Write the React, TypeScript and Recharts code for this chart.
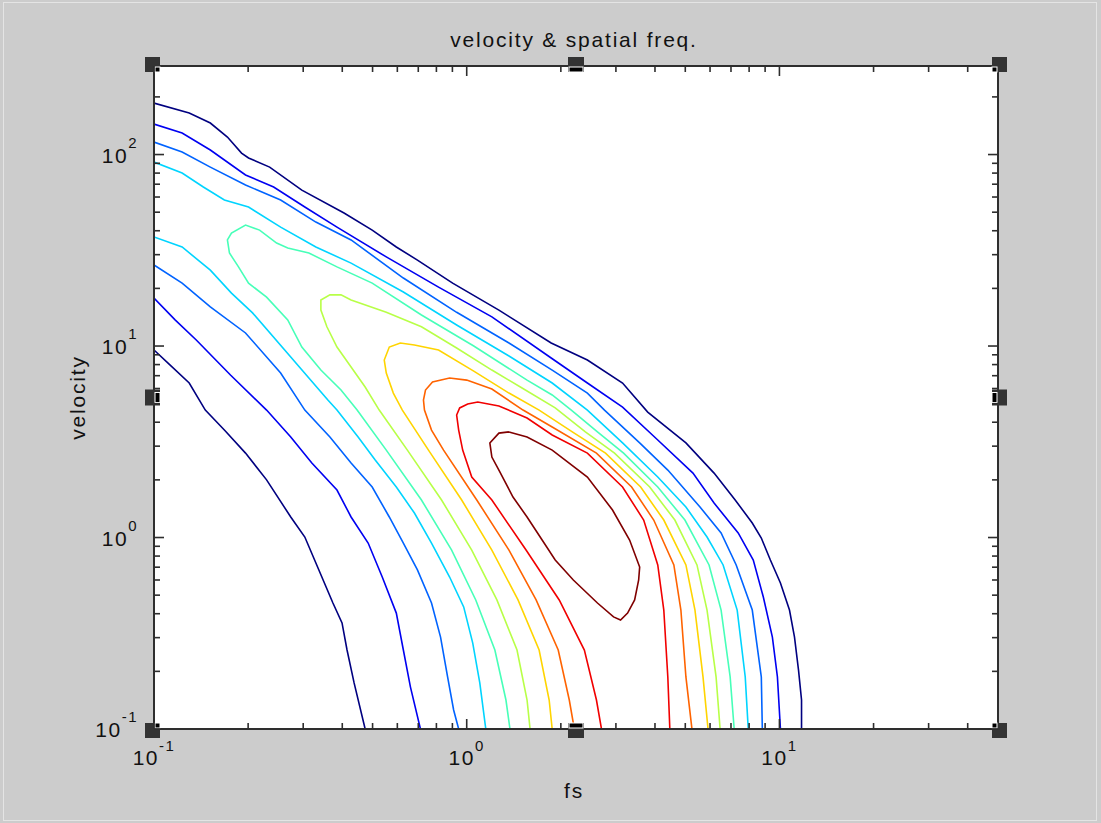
import React from "react";
import { LineChart, Line, XAxis, YAxis, CartesianGrid, ReferenceDot } from "recharts";

// axis ranges and ticks (log axes)
const fsDomain: [number, number] = [0.1, 50];
const velocityDomain: [number, number] = [0.1, 290];
const fsTicks = [0.1, 0.2, 0.3, 0.4, 0.5, 0.6, 0.7, 0.8, 0.9, 1, 2, 3, 4, 5, 6, 7, 8, 9, 10, 20, 30, 40];
const velocityTicks = [
  0.1, 0.2, 0.3, 0.4, 0.5, 0.6, 0.7, 0.8, 0.9, 1, 2, 3, 4, 5, 6, 7, 8, 9,
  10, 20, 30, 40, 50, 60, 70, 80, 90, 100, 200,
];

// jet colours for the 10 contour levels, low -> high
const levelColors = [
  "#000080", "#0000f1", "#0063ff", "#00d4ff", "#47ffb8",
  "#b8ff47", "#ffd400", "#ff6300", "#f10000", "#800000",
];

// contour lines, [fs, velocity]
const level1Lower = [
  [0.1, 9.53], [0.1109, 8.15], [0.1296, 6.41], [0.1459, 4.63], [0.1679, 3.64], [0.1962, 2.76],
  [0.2291, 2.0], [0.2737, 1.28], [0.3036, 1.006], [0.3367, 0.677], [0.3734, 0.455], [0.3993, 0.358],
  [0.4143, 0.2585], [0.4364, 0.174], [0.4734, 0.1],
];
const level1Upper = [
  [0.1, 185.7], [0.1296, 164.7], [0.1514, 146.1], [0.1717, 123.4], [0.1905, 101.8], [0.2006, 95.9],
  [0.2343, 86.0], [0.297, 65.2], [0.4052, 49.5], [0.4986, 40.3], [0.5955, 32.9], [0.6957, 28.1],
  [0.9015, 21.3], [1.2675, 15.4], [1.8626, 10.37], [2.4315, 8.45], [3.1506, 6.41], [3.7913, 4.52],
  [5.0232, 3.12], [6.1802, 2.17], [7.2197, 1.57], [8.188, 1.191], [8.7517, 0.994], [9.3551, 0.763],
  [10.075, 0.579], [10.769, 0.418], [11.174, 0.302], [11.51, 0.203], [11.768, 0.1417], [11.768, 0.1],
];
const level2Lower = [
  [0.1, 17.8], [0.1168, 13.7], [0.1365, 10.75], [0.1756, 7.06], [0.2291, 4.63], [0.2737, 3.35],
  [0.3197, 2.45], [0.3847, 1.77], [0.4268, 1.28], [0.484, 0.936], [0.5369, 0.622], [0.5955, 0.403],
  [0.6272, 0.2585], [0.6606, 0.166], [0.7113, 0.1],
];
const level2Upper = [
  [0.1, 144.3], [0.123, 129.5], [0.1514, 105.6], [0.1962, 78.2], [0.2413, 67.7], [0.3036, 53.2],
  [0.3847, 41.8], [0.5531, 29.2], [0.8127, 20.3], [1.2035, 14.2], [1.8626, 8.66], [2.4315, 6.41],
  [3.1506, 4.8], [4.0828, 3.23], [5.2904, 2.17], [6.1802, 1.514], [7.3819, 1.056], [8.2489, 0.763],
  [8.8822, 0.489], [9.4946, 0.302], [9.853, 0.187], [10.075, 0.1],
];
const level3Lower = [
  [0.1, 26.5], [0.123, 21.3], [0.1514, 16.0], [0.1962, 11.7], [0.2541, 7.23], [0.3036, 4.63],
  [0.3652, 3.35], [0.4268, 2.45], [0.4986, 1.835], [0.5655, 1.28], [0.6272, 0.936], [0.6957, 0.677],
  [0.7717, 0.455], [0.8248, 0.302], [0.8687, 0.187], [0.9082, 0.1257], [0.9425, 0.1],
];
const level3Upper = [
  [0.1, 116.2], [0.123, 103.1], [0.1514, 86.0], [0.1962, 69.3], [0.2541, 57.9], [0.3293, 44.4],
  [0.4268, 35.8], [0.6272, 22.65], [0.9286, 15.0], [1.365, 10.37], [1.8765, 7.49], [2.4315, 5.68],
  [2.7581, 4.63], [3.5733, 3.12], [4.3966, 2.25], [5.572, 1.443], [6.5088, 1.056], [7.2734, 0.719],
  [8.188, 0.418], [8.7517, 0.187], [8.8168, 0.1],
];
const level4Lower = [
  [0.1, 37.1], [0.123, 32.9], [0.1514, 24.9], [0.1769, 18.9], [0.2066, 14.9], [0.2737, 8.76],
  [0.3598, 5.22], [0.3847, 4.63], [0.4495, 3.35], [0.5098, 2.54], [0.5955, 1.835], [0.6804, 1.342],
  [0.7717, 0.936], [0.8817, 0.622], [0.978, 0.434], [1.0454, 0.281], [1.1011, 0.174], [1.1509, 0.1],
];
const level4Upper = [
  [0.1, 91.4], [0.123, 80.1], [0.1438, 67.7], [0.1679, 57.9], [0.2006, 53.2], [0.2541, 41.8],
  [0.3293, 32.9], [0.4268, 27.1], [0.6272, 19.14], [0.9286, 12.87], [1.365, 8.87], [1.8765, 6.41],
  [2.4315, 4.63], [3.1506, 3.12], [4.0828, 2.07], [5.0232, 1.443], [5.8684, 1.006], [6.6061, 0.719],
  [7.327, 0.418], [7.7745, 0.187], [7.949, 0.1],
];
const level5 = [
  [1.3752, 0.1], [1.335, 0.1417], [1.2305, 0.2585], [1.0689, 0.472], [0.895, 0.86], [0.7166, 1.57],
  [0.5531, 2.86], [0.4462, 4.63], [0.3963, 5.89], [0.3417, 7.49], [0.297, 9.88], [0.2677, 13.7],
  [0.2291, 18.0], [0.2006, 21.3], [0.1863, 25.9], [0.1743, 30.6], [0.1717, 35.8], [0.1769, 38.9],
  [0.1962, 42.8], [0.2176, 40.3], [0.2467, 34.5], [0.2677, 32.5], [0.3128, 30.6], [0.3847, 25.9],
  [0.4986, 21.3], [0.7166, 14.52], [1.0532, 10.0], [1.5595, 6.64], [1.8765, 5.55], [2.1601, 4.63],
  [2.6187, 3.56], [3.174, 2.76], [4.0828, 1.835], [4.9862, 1.234], [5.9561, 0.719], [6.5088, 0.418],
  [6.9573, 0.187], [7.1665, 0.1],
];
const level6 = [
  [1.5945, 0.1], [1.5595, 0.1417], [1.4483, 0.2585], [1.2489, 0.472], [1.0377, 0.86], [0.831, 1.57],
  [0.6461, 2.86], [0.5251, 4.63], [0.4734, 6.11], [0.4268, 7.77], [0.3847, 9.88], [0.3572, 12.6],
  [0.3417, 15.4], [0.3417, 17.4], [0.3652, 18.5], [0.3963, 18.5], [0.4268, 17.4], [0.5531, 15.0],
  [0.7166, 12.6], [0.9286, 9.76], [1.2035, 7.49], [1.503, 6.04], [1.9187, 4.75], [2.3958, 3.56],
  [2.9697, 2.76], [3.848, 1.835], [4.6304, 1.234], [5.4497, 0.719], [5.8684, 0.418], [6.2724, 0.187],
  [6.4609, 0.1],
];
const level7 = [
  [1.8765, 0.1], [1.8352, 0.1417], [1.7044, 0.2585], [1.4591, 0.472], [1.2035, 0.86], [0.9637, 1.57],
  [0.7547, 2.86], [0.6226, 4.63], [0.5825, 5.68], [0.5531, 7.23], [0.5449, 8.45], [0.5655, 9.88],
  [0.6134, 10.37], [0.6804, 10.12], [0.8127, 9.53], [1.0532, 7.4], [1.365, 5.68], [1.7044, 4.63],
  [2.1762, 3.56], [2.7786, 2.76], [3.5998, 1.835], [4.2683, 1.234], [5.0232, 0.719], [5.3695, 0.418],
  [5.6971, 0.187], [5.912, 0.1],
];
const level8 = [
  [2.2087, 0.1], [2.1283, 0.1417], [1.9617, 0.2585], [1.667, 0.472], [1.365, 0.86], [1.0769, 1.57],
  [0.8433, 2.86], [0.7717, 3.64], [0.7327, 4.63], [0.7273, 5.22], [0.7382, 5.89], [0.7774, 6.49],
  [0.8817, 6.81], [1.0, 6.64], [1.2035, 5.96], [1.5141, 4.63], [1.8765, 3.78], [2.5994, 2.76],
  [3.3678, 1.835], [3.9636, 1.234], [4.5963, 0.719], [4.8407, 0.418], [5.0232, 0.187], [5.2514, 0.1],
];
const level9 = [
  [2.6976, 0.1], [2.5994, 0.1417], [2.3781, 0.2585], [1.9763, 0.472], [1.548, 0.86], [1.2035, 1.57],
  [1.0377, 2.07], [0.9708, 2.86], [0.9425, 3.64], [0.9286, 4.36], [0.9495, 4.75], [1.0074, 4.98],
  [1.0849, 5.1], [1.2675, 4.86], [1.5595, 4.21], [1.8765, 3.43], [2.4315, 2.76], [3.1506, 1.835],
  [3.6807, 1.234], [4.0828, 0.719], [4.2683, 0.418], [4.3966, 0.187], [4.4621, 0.1],
];
const level10 = [
  [1.365, 3.56], [1.5595, 3.35], [1.8765, 2.86], [2.4315, 2.07], [2.926, 1.392], [3.3183, 0.97],
  [3.5733, 0.701], [3.547, 0.6], [3.4434, 0.472], [3.2694, 0.403], [3.1043, 0.371], [2.9478, 0.385],
  [2.6187, 0.455], [2.1924, 0.6], [1.9187, 0.763], [1.7426, 0.97], [1.5595, 1.28], [1.406, 1.627],
  [1.2675, 2.25], [1.2035, 2.63], [1.1858, 3.12], [1.2675, 3.51], [1.365, 3.56],
];

const contours = [
  { id: "l1a", level: 0, pts: level1Lower },
  { id: "l1b", level: 0, pts: level1Upper },
  { id: "l2a", level: 1, pts: level2Lower },
  { id: "l2b", level: 1, pts: level2Upper },
  { id: "l3a", level: 2, pts: level3Lower },
  { id: "l3b", level: 2, pts: level3Upper },
  { id: "l4a", level: 3, pts: level4Lower },
  { id: "l4b", level: 3, pts: level4Upper },
  { id: "l5", level: 4, pts: level5 },
  { id: "l6", level: 5, pts: level6 },
  { id: "l7", level: 6, pts: level7 },
  { id: "l8", level: 7, pts: level8 },
  { id: "l9", level: 8, pts: level9 },
  { id: "l10", level: 9, pts: level10 },
].map((c) => ({ ...c, data: c.pts.map(([x, y]) => ({ x, y })) }));

const FONT = "'Liberation Sans', Arial, Helvetica, sans-serif";
const AXIS = "#2e2e2e";

const isMajor = (v: number) => {
  const l = Math.log10(v);
  return Math.abs(l - Math.round(l)) < 1e-6;
};

function AxisTick(props: any) {
  const { x, y, payload, side } = props;
  const v = payload.value;
  const major = isMajor(v);
  const len = major ? 10 : 6;
  const exp = String(Math.round(Math.log10(v)));
  let line;
  if (side === "bottom") line = <line x1={x} y1={y} x2={x} y2={y - len} />;
  else if (side === "top") line = <line x1={x} y1={y} x2={x} y2={y + len} />;
  else if (side === "left") line = <line x1={x} y1={y} x2={x + len} y2={y} />;
  else line = <line x1={x} y1={y} x2={x - len} y2={y} />;
  return (
    <g>
      <g stroke={AXIS} strokeWidth={1.6}>{line}</g>
      {major && side === "bottom" && (
        <text x={x} y={y + 36} textAnchor="middle" fontFamily={FONT} fontSize={21} letterSpacing={1.5} fill="#111">
          <tspan>10</tspan>
          <tspan dy={-14} fontSize={15}>{exp}</tspan>
        </text>
      )}
      {major && side === "left" && (
        <text x={x - 16} y={y + 8} textAnchor="end" fontFamily={FONT} fontSize={21} letterSpacing={1.5} fill="#111">
          <tspan>10</tspan>
          <tspan dy={-15} fontSize={15}>{exp}</tspan>
        </text>
      )}
    </g>
  );
}

// plot-edit selection handles (corners and mid-edges)
const handleSpots = [
  { fx: "min", fy: "max", dx: 1, dy: 1 },
  { fx: "mid", fy: "max", dx: 0, dy: 1 },
  { fx: "max", fy: "max", dx: -1, dy: 1 },
  { fx: "min", fy: "mid", dx: 1, dy: 0 },
  { fx: "max", fy: "mid", dx: -1, dy: 0 },
  { fx: "min", fy: "min", dx: 1, dy: -1 },
  { fx: "mid", fy: "min", dx: 0, dy: -1 },
  { fx: "max", fy: "min", dx: -1, dy: -1 },
];
const pick = (d: [number, number], k: string) =>
  k === "min" ? d[0] : k === "max" ? d[1] : Math.sqrt(d[0] * d[1]);

function Handle({ cx, cy, dx, dy }: any) {
  if (cx == null || cy == null) return null;
  const ow = dx === 0 ? 16 : 15;
  const oh = dy === 0 ? 16 : 15;
  const ocx = cx - 1.5 * dx;
  const ocy = cy - 1.5 * dy;
  const iw = dx === 0 ? 14 : 5;
  const ih = dy === 0 ? 10 : 5;
  const ix = dx === 0 ? cx - 7 : dx > 0 ? cx + 1 : cx - 6;
  const iy = dy === 0 ? cy - 5 : dy > 0 ? cy + 1 : cy - 6;
  return (
    <g>
      <rect x={ocx - ow / 2} y={ocy - oh / 2} width={ow} height={oh} fill="#333333" />
      <rect x={ix} y={iy} width={iw} height={ih} fill="#000" stroke="#ffffff" strokeWidth={1} />
    </g>
  );
}

export default function App() {
  return (
    <div
      style={{
        position: "absolute",
        left: 0,
        top: 0,
        width: 1101,
        height: 823,
        background: "#cccccc",
        fontFamily: FONT,
      }}
    >
      <div
        style={{
          position: "absolute",
          left: 3,
          top: 2,
          width: 1092,
          height: 817,
          border: "1px solid #e4e4e4",
        }}
      />
      <div style={{ position: "absolute", left: 0, top: 0 }}>
        <LineChart width={1101} height={823} margin={{ top: 56, right: 93, bottom: 54, left: 94 }}>
          <CartesianGrid xAxisId="b" yAxisId="l" fill="#ffffff" horizontal={false} vertical={false} />
          <XAxis
            xAxisId="b"
            dataKey="x"
            type="number"
            scale="log"
            domain={fsDomain}
            allowDataOverflow
            ticks={fsTicks}
            interval={0}
            height={40}
            tickSize={0}
            tickMargin={0}
            tickLine={false}
            axisLine={{ stroke: AXIS, strokeWidth: 2 }}
            tick={(p: any) => <AxisTick {...p} side="bottom" />}
            label={{
              content: (p: any) => (
                <text
                  x={p.viewBox.x + p.viewBox.width / 2 - 2}
                  y={p.viewBox.y + 69}
                  textAnchor="middle"
                  fontFamily={FONT}
                  fontSize={21}
                  letterSpacing={1.8}
                  fill="#111"
                >
                  fs
                </text>
              ),
            }}
          />
          <XAxis
            xAxisId="t"
            orientation="top"
            dataKey="x"
            type="number"
            scale="log"
            domain={fsDomain}
            allowDataOverflow
            ticks={fsTicks}
            interval={0}
            height={10}
            tickSize={0}
            tickMargin={0}
            tickLine={false}
            axisLine={{ stroke: AXIS, strokeWidth: 2 }}
            tick={(p: any) => <AxisTick {...p} side="top" />}
            label={{
              content: (p: any) => (
                <text
                  x={p.viewBox.x + p.viewBox.width / 2 - 2}
                  y={p.viewBox.y - 9}
                  textAnchor="middle"
                  fontFamily={FONT}
                  fontSize={21}
                  letterSpacing={1.8}
                  fill="#111"
                >
                  velocity &amp; spatial freq.
                </text>
              ),
            }}
          />
          <YAxis
            yAxisId="l"
            type="number"
            scale="log"
            domain={velocityDomain}
            allowDataOverflow
            ticks={velocityTicks}
            interval={0}
            width={60}
            tickSize={0}
            tickMargin={0}
            tickLine={false}
            axisLine={{ stroke: AXIS, strokeWidth: 2 }}
            tick={(p: any) => <AxisTick {...p} side="left" />}
            label={{
              content: (p: any) => {
                const cx = p.viewBox.x - 9;
                const cy = p.viewBox.y + p.viewBox.height / 2;
                return (
                  <text
                    x={cx}
                    y={cy}
                    transform={`rotate(-90 ${cx} ${cy})`}
                    textAnchor="middle"
                    fontFamily={FONT}
                    fontSize={21}
                    letterSpacing={1.8}
                    fill="#111"
                  >
                    velocity
                  </text>
                );
              },
            }}
          />
          <YAxis
            yAxisId="r"
            orientation="right"
            type="number"
            scale="log"
            domain={velocityDomain}
            allowDataOverflow
            ticks={velocityTicks}
            interval={0}
            width={10}
            tickSize={0}
            tickMargin={0}
            tickLine={false}
            axisLine={{ stroke: AXIS, strokeWidth: 2 }}
            tick={(p: any) => <AxisTick {...p} side="right" />}
          />
          {contours.map((c) => (
            <Line
              key={c.id}
              xAxisId="b"
              yAxisId="l"
              data={c.data}
              dataKey="y"
              type="linear"
              stroke={levelColors[c.level]}
              strokeWidth={1.6}
              dot={false}
              activeDot={false}
              isAnimationActive={false}
            />
          ))}
          {handleSpots.map((h, i) => (
            <ReferenceDot
              key={i}
              xAxisId="b"
              yAxisId="l"
              x={pick(fsDomain, h.fx)}
              y={pick(velocityDomain, h.fy)}
              r={1}
              ifOverflow="visible"
              shape={(p: any) => <Handle cx={p.cx} cy={p.cy} dx={h.dx} dy={h.dy} />}
            />
          ))}
        </LineChart>
      </div>
    </div>
  );
}
